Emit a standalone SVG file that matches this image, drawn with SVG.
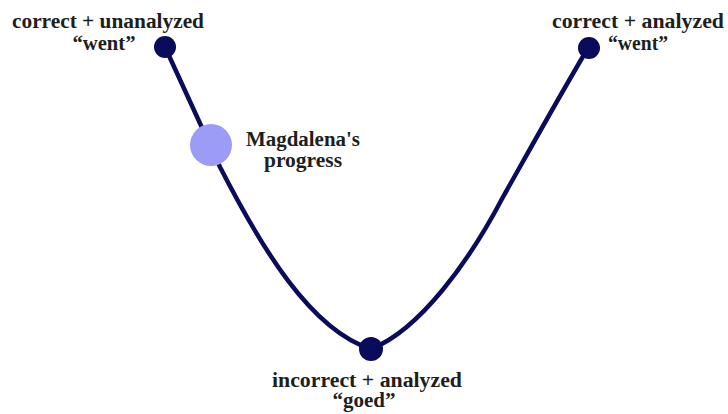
<svg xmlns="http://www.w3.org/2000/svg" width="728" height="414" viewBox="0 0 728 414">
<style>
.lbl{font-family:"Liberation Serif","Times New Roman",serif;font-weight:bold;font-size:20px;fill:#1e1e1e;text-anchor:middle}
.dot{fill:#0b0b5c}
.line{fill:none;stroke:#0b0b5c;stroke-width:4.5;stroke-linecap:round}
</style>
<rect width="728" height="414" fill="#fff"/>
<g id="connectors">
<path class="line" d="M165,47 L220,167 C260,245 310,330 371,349 C420,330 470,260 503,197 C525,158 560,95 588,48"/>
</g>
<g id="node-unanalyzed">
<circle class="dot" cx="165" cy="47" r="11"/>
<text class="lbl" x="108" y="28" textLength="192" lengthAdjust="spacingAndGlyphs">correct + unanalyzed</text>
<text class="lbl" x="104" y="50" textLength="63" lengthAdjust="spacingAndGlyphs">“went”</text>
</g>
<g id="node-analyzed">
<circle class="dot" cx="589" cy="48" r="11"/>
<text class="lbl" x="638" y="28" textLength="172" lengthAdjust="spacingAndGlyphs">correct + analyzed</text>
<text class="lbl" x="638" y="50" textLength="60" lengthAdjust="spacingAndGlyphs">“went”</text>
</g>
<g id="node-incorrect">
<circle class="dot" cx="371" cy="349" r="12"/>
<text class="lbl" x="367" y="387" textLength="190" lengthAdjust="spacingAndGlyphs">incorrect + analyzed</text>
<text class="lbl" x="364" y="407" textLength="63" lengthAdjust="spacingAndGlyphs">“goed”</text>
</g>
<g id="node-progress">
<circle cx="211" cy="145" r="21" fill="#9c9cf6"/>
<text class="lbl" x="303" y="146" textLength="114" lengthAdjust="spacingAndGlyphs">Magdalena's</text>
<text class="lbl" x="303" y="167" textLength="78" lengthAdjust="spacingAndGlyphs">progress</text>
</g>
</svg>
